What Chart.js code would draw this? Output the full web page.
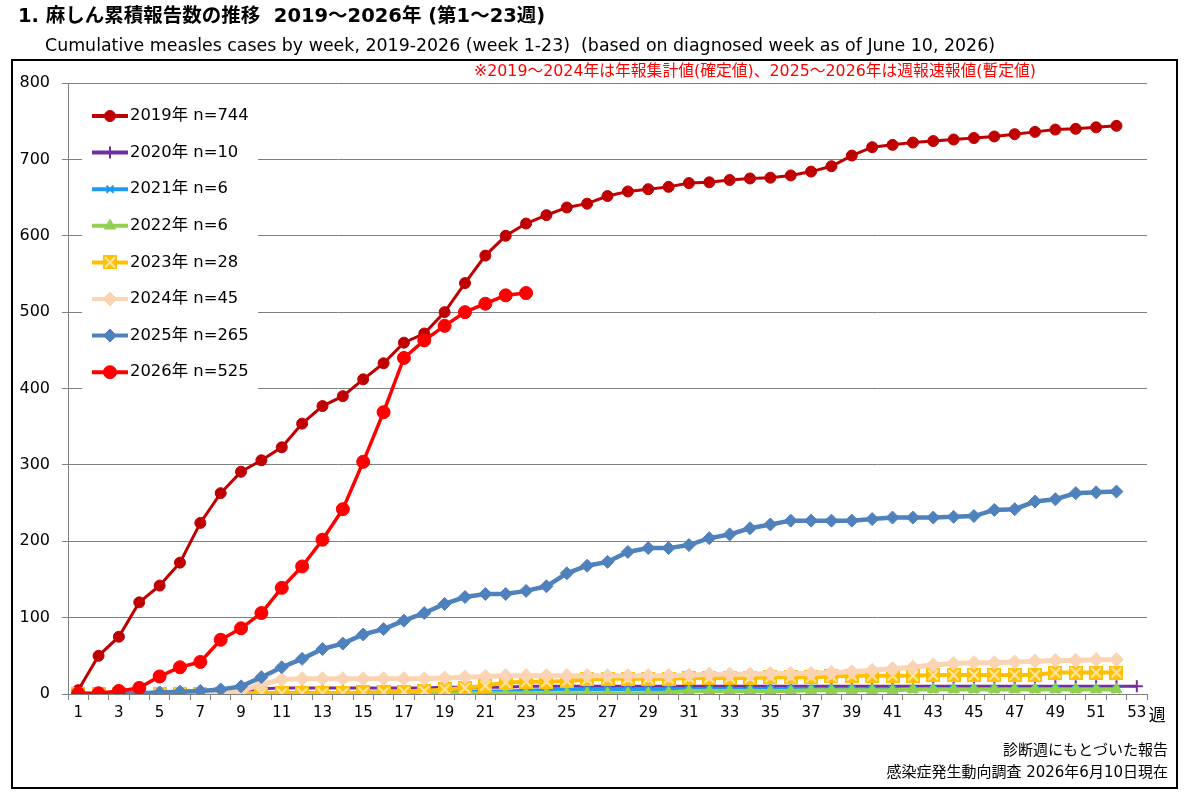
<!DOCTYPE html>
<html lang="ja">
<head>
<meta charset="utf-8">
<title>麻しん累積報告数の推移</title>
<script src="https://cdn.jsdelivr.net/npm/chart.js@4.4.1/dist/chart.umd.min.js"></script>
<style>
html,body{margin:0;padding:0;background:#fff;}
</style>
</head>
<body>
<canvas id="chart" width="1184" height="798"></canvas>
<script>
// week labels (x axis)
const weeks = ['1','2','3','4','5','6','7','8','9','10','11','12','13','14','15','16','17','18','19','20',
  '21','22','23','24','25','26','27','28','29','30','31','32','33','34','35','36','37','38','39','40',
  '41','42','43','44','45','46','47','48','49','50','51','52','53'];

// cumulative cases per week
const cases2019 = [5,50,75,120,142,172,224,263,291,306,323,354,377,390,412,433,460,472,500,538,
  574,600,616,627,637,642,652,658,661,664,669,670,673,675,676,679,684,691,705,716,
  719,722,724,726,728,730,733,736,739,740,742,744];
const cases2020 = [0,0,1,1,2,2,3,4,5,7,8,8,8,8,8,8,8,8,9,9,9,9,
  10,10,10,10,10,10,10,10,10,10,10,10,10,10,10,10,10,10,10,10,
  10,10,10,10,10,10,10,10,10,10,10];
const cases2021 = [0,0,0,1,1,1,1,1,1,2,2,2,2,2,2,3,3,3,3,4,4,4,5,
  6,6,6,6,6,6,6,6,6,6,6,6,6,6,6,6,6,6,6,6,6,6,6,6,6,6,6,6,6];
const cases2022 = [0,0,0,0,0,0,0,0,0,1,1,1,1,1,1,1,1,1,1,1,1,1,1,1,1,1,1,1,1,2,
  4,4,4,4,4,4,5,5,5,5,5,6,6,6,6,6,6,6,6,6,6,6];
const cases2023 = [0,0,0,0,0,0,0,0,0,1,1,1,1,1,2,2,3,4,6,8,11,15,16,16,17,19,20,20,20,20,
  21,21,21,21,22,22,22,23,24,24,24,24,25,25,25,25,25,25,28,28,28,28];
const cases2024 = [0,0,0,0,1,1,1,2,4,13,19,20,20,20,20,20,20,20,21,22,23,24,24,24,24,24,24,24,24,24,
  25,26,26,26,27,27,27,28,29,31,33,35,38,40,41,41,42,43,44,44,45,45];
const cases2025 = [0,0,1,1,2,3,4,6,10,22,35,46,59,66,78,85,96,106,118,127,131,131,135,141,158,168,
  173,186,191,191,195,204,209,217,222,227,227,227,227,229,231,231,231,232,233,241,242,252,255,263,264,265];
const cases2026 = [1,1,4,8,23,35,42,71,86,106,139,167,202,242,304,369,440,463,482,500,511,522,525];

const seriesLabels = ['2019年 n=744','2020年 n=10','2021年 n=6','2022年 n=6',
  '2023年 n=28','2024年 n=45','2025年 n=265','2026年 n=525'];

const FONT = '"DejaVu Sans", "Noto Sans CJK JP", sans-serif';

// yellow square with a pale X, used for 2023
function boxCross() {
  const c = document.createElement('canvas');
  c.width = 14; c.height = 14;
  const g = c.getContext('2d');
  g.fillStyle = '#FFC000';
  g.fillRect(0, 0, 14, 14);
  g.strokeStyle = '#FFE8A8';
  g.lineWidth = 2;
  g.beginPath();
  g.moveTo(2, 2); g.lineTo(12, 12);
  g.moveTo(12, 2); g.lineTo(2, 12);
  g.stroke();
  return c;
}

function makeSet(label, data, color, width, style, radius, pointBorder) {
  return {
    label: label,
    data: data,
    borderColor: color,
    backgroundColor: color,
    borderWidth: width,
    pointStyle: style,
    pointRadius: radius,
    pointBackgroundColor: color,
    pointBorderColor: color,
    pointBorderWidth: pointBorder,
    tension: 0,
    fill: false
  };
}

const datasets = [
  makeSet(seriesLabels[0], cases2019, '#C00000', 3, 'circle', 5.5, 1),
  makeSet(seriesLabels[1], cases2020, '#7030A0', 3, 'cross', 6, 2),
  makeSet(seriesLabels[2], cases2021, '#1E9AF0', 3, 'crossRot', 5, 2),
  makeSet(seriesLabels[3], cases2022, '#92D050', 4, 'triangle', 6.5, 1),
  makeSet(seriesLabels[4], cases2023, '#FFC000', 4, boxCross(), 7, 1),
  makeSet(seriesLabels[5], cases2024, '#FBD4B4', 5, 'rectRot', 7, 1),
  makeSet(seriesLabels[6], cases2025, '#4F81BD', 4.5, 'rectRot', 6.5, 1),
  makeSet(seriesLabels[7], cases2026, '#FF0000', 3.5, 'circle', 6.5, 1)
];
// later years painted on top
datasets.forEach((ds, i) => { ds.order = datasets.length - i; });

// legend box in the upper left of the plot
const boxLegend = {
  id: 'boxLegend',
  afterDatasetsDraw(chart) {
    const ctx = chart.ctx;
    ctx.save();
    ctx.fillStyle = '#fff';
    ctx.fillRect(82, 95, 176, 298);
    chart.data.datasets.forEach((ds, i) => {
      const y = 116 + i * 36.6;
      ctx.strokeStyle = ds.borderColor;
      ctx.lineWidth = 4;
      ctx.beginPath();
      ctx.moveTo(92, y);
      ctx.lineTo(128, y);
      ctx.stroke();
      ctx.fillStyle = ds.pointBackgroundColor;
      ctx.strokeStyle = ds.pointBorderColor;
      ctx.lineWidth = ds.pointBorderWidth;
      Chart.helpers.drawPoint(ctx, {
        pointStyle: ds.pointStyle, radius: ds.pointRadius, rotation: 0, borderWidth: ds.pointBorderWidth
      }, 110, y);
      ctx.fillStyle = '#000';
      ctx.font = '16.4px ' + FONT;
      ctx.textAlign = 'left';
      ctx.textBaseline = 'middle';
      ctx.fillText(ds.label, 130, y);
    });
    ctx.restore();
  }
};

// title, frame and notes
const pageText = {
  id: 'pageText',
  beforeDraw(chart) {
    const ctx = chart.ctx;
    ctx.save();
    ctx.fillStyle = '#fff';
    ctx.fillRect(0, 0, chart.width, chart.height);
    ctx.restore();
  },
  afterDraw(chart) {
    const ctx = chart.ctx;
    ctx.save();
    ctx.textBaseline = 'middle';
    ctx.fillStyle = '#000';
    ctx.font = 'bold 19.5px ' + FONT;
    ctx.fillText('1. 麻しん累積報告数の推移  2019～2026年 (第1～23週)', 18, 17);
    ctx.font = '17.4px ' + FONT;
    ctx.fillText('Cumulative measles cases by week, 2019-2026 (week 1-23)  (based on diagnosed week as of June 10, 2026)', 45, 46);

    ctx.strokeStyle = '#000';
    ctx.lineWidth = 2;
    ctx.strokeRect(12, 60, 1165, 728);

    ctx.fillStyle = '#FF0000';
    ctx.font = '15.8px ' + FONT;
    ctx.fillText('※2019～2024年は年報集計値(確定値)、2025～2026年は週報速報値(暫定値)', 474, 72);

    ctx.fillStyle = '#000';
    ctx.font = '17px ' + FONT;
    const xs = chart.scales.x;
    ctx.fillText('週', xs.getPixelForValue(52) + 12, 717);

    ctx.textAlign = 'right';
    ctx.font = '15px ' + FONT;
    ctx.fillText('診断週にもとづいた報告', 1168, 751);
    ctx.fillText('感染症発生動向調査 2026年6月10日現在', 1168, 773);
    ctx.restore();
  }
};

new Chart(document.getElementById('chart'), {
  type: 'line',
  data: { labels: weeks, datasets: datasets },
  options: {
    responsive: false,
    animation: false,
    layout: { padding: { left: 12, right: 37, top: 83, bottom: 74 } },
    plugins: { legend: { display: false }, tooltip: { enabled: false } },
    scales: {
      x: {
        offset: true,
        grid: { drawOnChartArea: false, drawTicks: true, tickLength: 6, color: '#808080', offset: true },
        border: { color: '#808080', width: 1 },
        ticks: {
          autoSkip: false, maxRotation: 0, color: '#000', padding: 4,
          font: { size: 15, family: FONT },
          callback: function (v, i) { return i % 2 === 0 ? this.getLabelForValue(v) : ''; }
        },
        afterFit: s => { s.height = 30; }
      },
      y: {
        min: 0, max: 800,
        grid: { color: '#808080', tickLength: 6 },
        border: { color: '#808080', width: 1 },
        ticks: { stepSize: 100, color: '#000', padding: 12, font: { size: 16, family: FONT } },
        afterFit: s => { s.width = 56; }
      }
    }
  },
  plugins: [pageText, boxLegend]
});
</script>
</body>
</html>
